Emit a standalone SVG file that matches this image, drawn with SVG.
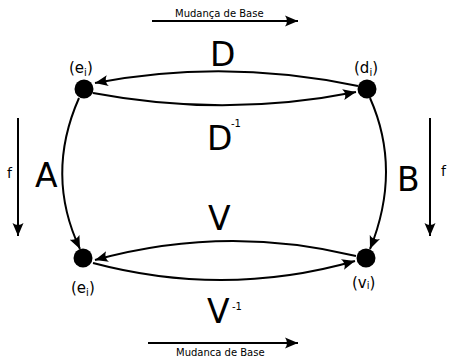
<svg xmlns="http://www.w3.org/2000/svg" width="449" height="357" viewBox="0 0 449 357">
<style>
text{font-family:"DejaVu Sans","Liberation Sans",sans-serif;fill:#000}
.edge{fill:none;stroke:#000;stroke-width:2}
.node{fill:#000}
.lbl{font-size:15px}
.sub{font-size:10px}
.big{font-size:33px}
.sup{font-size:10px}
.cap{font-size:10px}
.f{font-size:14px}
</style>
<defs>
<marker id="ah" markerUnits="userSpaceOnUse" markerWidth="14" markerHeight="12" refX="13" refY="6" orient="auto" viewBox="0 0 14 12">
<path d="M0,0.5 L13,6 L0,11.5 Q4,6 0,0.5 z" fill="#000"/>
</marker>
</defs>
<g id="connectors">
<path class="edge" d="M358,86 Q225,58 95,83" marker-end="url(#ah)"/>
<path class="edge" d="M93,93 Q225,118 356,92" marker-end="url(#ah)"/>
<path class="edge" d="M356,256 Q225,224 95,260" marker-end="url(#ah)"/>
<path class="edge" d="M93,263 Q225,298 355,261" marker-end="url(#ah)"/>
<path class="edge" d="M79,98 Q45,175 80,249" marker-end="url(#ah)"/>
<path class="edge" d="M370,98 Q402,170 370,249" marker-end="url(#ah)"/>
<path class="edge" d="M18,118 L18,236" marker-end="url(#ah)"/>
<path class="edge" d="M430,118 L430,236" marker-end="url(#ah)"/>
<path class="edge" d="M152,21 L298,21" marker-end="url(#ah)"/>
<path class="edge" d="M148,343 L298,343" marker-end="url(#ah)"/>
</g>
<g id="n_ei_top">
<circle class="node" cx="84" cy="89" r="9.5"/>
<text class="lbl" x="69" y="73">(e<tspan class="sub" dy="3">i</tspan><tspan dy="-3">)</tspan></text>
</g>
<g id="n_di">
<circle class="node" cx="367" cy="89" r="9.5"/>
<text class="lbl" x="354" y="73">(d<tspan class="sub" dy="3">i</tspan><tspan dy="-3">)</tspan></text>
</g>
<g id="n_ei_bot">
<circle class="node" cx="83" cy="258" r="9.5"/>
<text class="lbl" x="71" y="293">(e<tspan class="sub" dy="3">i</tspan><tspan dy="-3">)</tspan></text>
</g>
<g id="n_vi">
<circle class="node" cx="366" cy="258" r="9.5"/>
<text class="lbl" x="352" y="288">(v<tspan class="sub" dy="1">i</tspan><tspan dy="-1">)</tspan></text>
</g>
<g id="labels">
<text class="big" x="210" y="66">D</text>
<text class="big" x="207" y="150">D</text>
<text class="sup" x="231" y="127">-1</text>
<text class="big" x="35" y="187">A</text>
<text class="big" x="397" y="191">B</text>
<text class="big" x="208" y="230">V</text>
<text class="big" x="207" y="323">V</text>
<text class="sup" x="232" y="310">-1</text>
<text class="f" x="7" y="178">f</text>
<text class="f" x="441" y="176">f</text>
<text class="cap" x="175" y="17">Mudança de Base</text>
<text class="cap" x="176" y="356">Mudanca de Base</text>
</g>
</svg>
